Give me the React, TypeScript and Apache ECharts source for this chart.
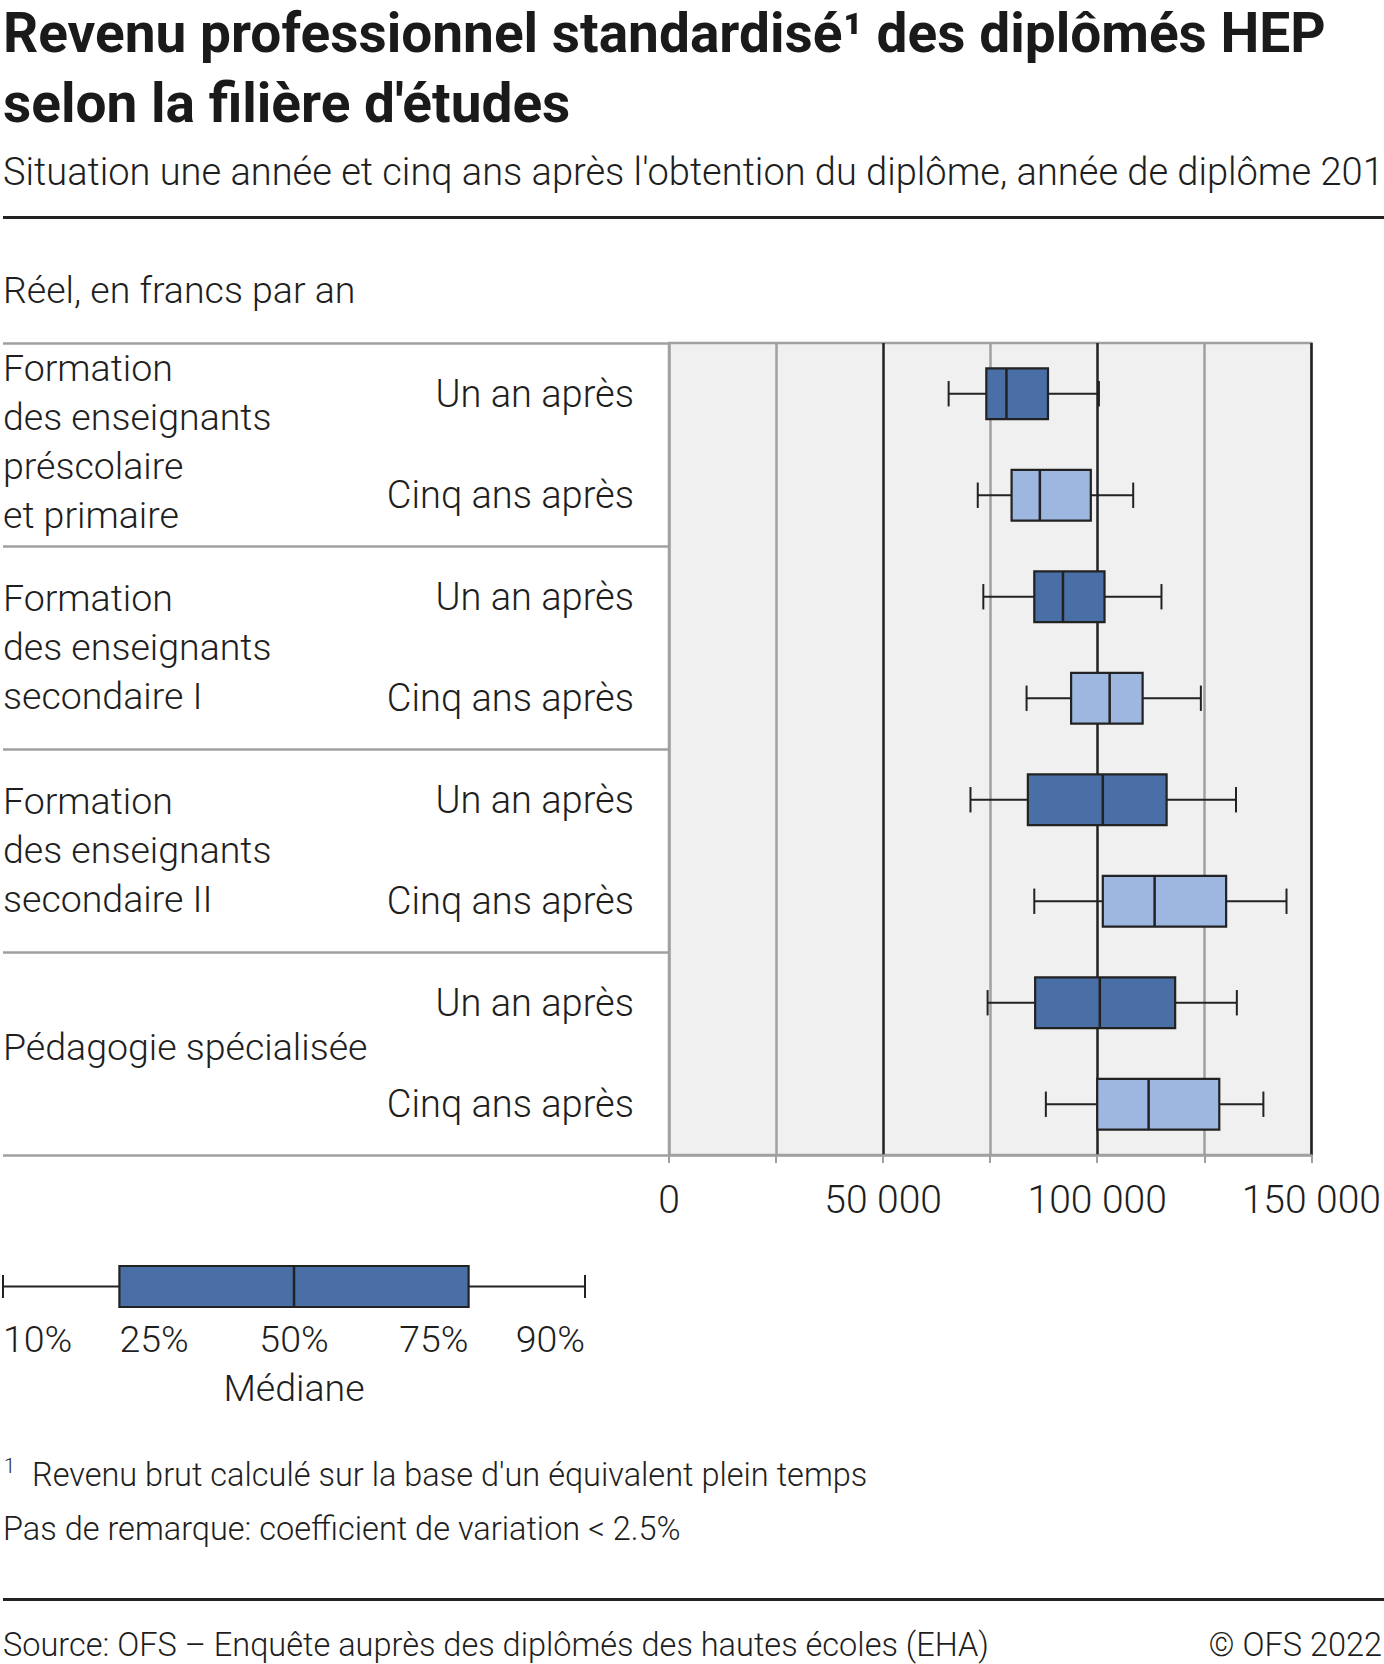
import React, { useEffect, useRef } from 'react';
import * as echarts from 'echarts';

const TITLE_LINES = ['Revenu professionnel standardisé¹ des diplômés HEP', "selon la filière d'études"];
const SUBTITLE = "Situation une année et cinq ans après l'obtention du diplôme, année de diplôme 2016";
const UNIT = 'Réel, en francs par an';
const GROUPS = [
  'Formation\ndes enseignants\npréscolaire\net primaire',
  'Formation\ndes enseignants\nsecondaire I',
  'Formation\ndes enseignants\nsecondaire II',
  'Pédagogie spécialisée',
];
const PERIODS = ['Un an après', 'Cinq ans après'];
// [P10, P25, P50 (médiane), P75, P90] par filière
const UN_AN = [
  [65300, 74100, 78800, 88500, 100400],
  [73400, 85300, 92000, 101700, 115000],
  [70400, 83800, 101300, 116200, 132400],
  [74400, 85500, 100600, 118200, 132600],
];
const CINQ_ANS = [
  [72100, 80000, 86600, 98500, 108400],
  [83500, 93900, 102900, 110600, 124200],
  [85300, 101300, 113400, 130100, 144200],
  [88000, 100000, 112000, 128500, 138800],
];
const X_MIN = 0;
const X_MAX = 150000;
const X_STEP = 25000;
const X_LABELLED = [0, 50000, 100000, 150000];
const LEGEND_LABELS = ['10%', '25%', '50%', '75%', '90%'];
const LEGEND_SCHEMA = [0, 20, 50, 80, 100];
const MEDIAN_LABEL = 'Médiane';
const FOOTNOTE_MARK = '1';
const FOOTNOTE = "Revenu brut calculé sur la base d'un équivalent plein temps";
const REMARK = 'Pas de remarque: coefficient de variation < 2.5%';
const SOURCE = 'Source: OFS – Enquête auprès des diplômés des hautes écoles (EHA)';
const COPYRIGHT = '© OFS 2022';

const W = 1384;
const H = 1664;
const FONT = 'Roboto';
const INK = '#1e1e1e';
const DARK = '#4a6ea6';
const LIGHT = '#9eb7e0';
const GREY = '#a0a0a0';
const BLACK = '#222222';
const BODY = 38;
const LABEL = 37.5;
const SMALL = 32.5;
// upward nudge (bottom padding, px) of each group label block
const GROUP_PAD = [6, 2, 2, 13];

const GRID = { left: 669, top: 343, width: 647, height: 812 };
const LEG = { left: 3, top: 1266, width: 582, height: 41 };

const ROW_IDS = GROUPS.flatMap((_, g) => PERIODS.map((_, p) => `r${g}_${p}`));
const ROW_LABELS = GROUPS.flatMap(() => PERIODS);

const fmt = (v: number) => String(v).replace(/\B(?=(\d{3})+(?!\d))/g, ' ');

const txt = (text: string, x: number, y: number, size: number, o: any = {}) => ({
  type: 'text',
  x,
  y,
  silent: true,
  style: {
    text,
    fontSize: size,
    fontFamily: FONT,
    fontWeight: o.weight ?? 300,
    fill: o.color ?? INK,
    align: o.align ?? 'left',
    textAlign: o.align ?? 'left',
    verticalAlign: 'middle',
    textVerticalAlign: 'middle',
  },
});

const makeRender = (fill: string, boxRatio: number, capRatio: number) => (params: any, api: any) => {
  const cat = api.value(0);
  const pts = [1, 2, 3, 4, 5].map((d) => api.coord([api.value(d), cat]));
  const band = api.size([0, 1])[1];
  const h = band * boxRatio;
  const cap = h * capRatio;
  const cy = pts[2][1];
  const ln = (x1: number, y1: number, x2: number, y2: number, w = 2) => ({
    type: 'line',
    shape: { x1, y1, x2, y2 },
    style: { stroke: BLACK, lineWidth: w },
  });
  return {
    type: 'group',
    children: [
      ln(pts[0][0], cy, pts[1][0], cy),
      ln(pts[3][0], cy, pts[4][0], cy),
      ln(pts[0][0], cy - cap / 2, pts[0][0], cy + cap / 2),
      ln(pts[4][0], cy - cap / 2, pts[4][0], cy + cap / 2),
      {
        type: 'rect',
        shape: { x: pts[1][0], y: cy - h / 2, width: pts[3][0] - pts[1][0], height: h },
        style: { fill, stroke: BLACK, lineWidth: 2.2 },
      },
      ln(pts[2][0], cy - h / 2, pts[2][0], cy + h / 2, 2.5),
    ],
  };
};

export default function App() {
  const ref = useRef<HTMLDivElement>(null);
  useEffect(() => {
    document.body.style.margin = '0';
    const chart = echarts.init(ref.current!, null, { renderer: 'svg', width: W, height: H });
    const legX = (v: number) => LEG.left + (v / 100) * LEG.width;
    const legendAligns = ['left', 'left', 'center', 'right', 'right'];
    const baseRich = { fontSize: LABEL, lineHeight: 49, fontWeight: 300, fontFamily: FONT, color: INK };
    const rich: any = {};
    GROUP_PAD.forEach((p, i) => {
      rich['g' + i] = { ...baseRich, padding: [0, 0, p, 0] };
    });
    const option: any = {
      animation: false,
      backgroundColor: '#ffffff',
      textStyle: { fontFamily: FONT },
      grid: [
        { ...GRID, show: true, backgroundColor: '#f0f0f0', borderColor: GREY, borderWidth: 2.5, containLabel: false },
        { ...LEG, show: false, containLabel: false },
      ],
      xAxis: [
        {
          type: 'value',
          gridIndex: 0,
          min: X_MIN,
          max: X_MAX,
          interval: X_STEP,
          axisLine: { show: true, lineStyle: { color: GREY, width: 2.5 } },
          axisTick: { show: true, length: 8, lineStyle: { color: GREY, width: 2 } },
          axisLabel: {
            margin: 25,
            fontSize: 39,
            fontWeight: 300,
            fontFamily: FONT,
            color: INK,
            formatter: (v: number) => (X_LABELLED.includes(v) ? fmt(v) : ''),
          },
          splitLine: {
            show: true,
            lineStyle: { color: [GREY, GREY, BLACK, GREY, BLACK, GREY, BLACK], width: 2.5 },
          },
        },
        { type: 'value', gridIndex: 1, min: 0, max: 100, show: false },
      ],
      yAxis: [
        {
          type: 'category',
          gridIndex: 0,
          data: ROW_IDS,
          inverse: true,
          axisLine: { show: false },
          axisTick: { show: false },
          splitLine: { show: false },
          axisLabel: {
            margin: 35,
            fontSize: BODY,
            fontWeight: 300,
            fontFamily: FONT,
            color: INK,
            formatter: (_v: string, i: number) => ROW_LABELS[i],
          },
        },
        {
          type: 'category',
          gridIndex: 0,
          position: 'left',
          data: GROUPS,
          inverse: true,
          axisLine: { show: false },
          axisTick: { show: true, length: 666, lineStyle: { color: GREY, width: 2.5 } },
          splitLine: { show: false },
          axisLabel: {
            margin: 666,
            align: 'left',
            fontSize: LABEL,
            lineHeight: 49,
            fontWeight: 300,
            fontFamily: FONT,
            color: INK,
            rich,
            formatter: (v: string, i: number) =>
              v
                .split('\n')
                .map((line) => `{g${i}|${line}}`)
                .join('\n'),
          },
        },
        { type: 'category', gridIndex: 1, data: ['schema'], show: false },
      ],
      series: [
        {
          type: 'custom',
          name: PERIODS[0],
          xAxisIndex: 0,
          yAxisIndex: 0,
          clip: false,
          encode: { x: [1, 2, 3, 4, 5], y: 0 },
          data: UN_AN.map((v, g) => [2 * g, ...v]),
          renderItem: makeRender(DARK, 0.5, 0.5),
        },
        {
          type: 'custom',
          name: PERIODS[1],
          xAxisIndex: 0,
          yAxisIndex: 0,
          clip: false,
          encode: { x: [1, 2, 3, 4, 5], y: 0 },
          data: CINQ_ANS.map((v, g) => [2 * g + 1, ...v]),
          renderItem: makeRender(LIGHT, 0.5, 0.5),
        },
        {
          type: 'custom',
          name: 'schema',
          xAxisIndex: 1,
          yAxisIndex: 2,
          clip: false,
          encode: { x: [1, 2, 3, 4, 5], y: 0 },
          data: [[0, ...LEGEND_SCHEMA]],
          renderItem: makeRender(DARK, 1, 0.56),
        },
      ],
      graphic: [
        txt(TITLE_LINES[0], 3, 33, 55, { weight: 700, color: '#1a1a1a' }),
        txt(TITLE_LINES[1], 3, 103, 55, { weight: 700, color: '#1a1a1a' }),
        txt(SUBTITLE, 3, 172, BODY),
        { type: 'line', silent: true, shape: { x1: 3, y1: 217.5, x2: W, y2: 217.5 }, style: { stroke: BLACK, lineWidth: 3 } },
        txt(UNIT, 3, 290, LABEL),
        ...LEGEND_LABELS.map((l, i) => txt(l, legX(LEGEND_SCHEMA[i]), 1339, LABEL, { align: legendAligns[i] })),
        txt(MEDIAN_LABEL, legX(LEGEND_SCHEMA[2]), 1388, LABEL, { align: 'center' }),
        txt(FOOTNOTE_MARK, 4, 1466, 20),
        txt(FOOTNOTE, 32, 1475, SMALL),
        txt(REMARK, 3, 1529, SMALL),
        { type: 'line', silent: true, shape: { x1: 3, y1: 1599.5, x2: W, y2: 1599.5 }, style: { stroke: BLACK, lineWidth: 3 } },
        txt(SOURCE, 3, 1645, SMALL),
        txt(COPYRIGHT, 1382, 1645, SMALL, { align: 'right' }),
      ],
    };
    chart.setOption(option);
    return () => chart.dispose();
  }, []);
  return (
    <div
      ref={ref}
      style={{ position: 'absolute', left: 0, top: 0, width: W, height: H, overflow: 'hidden', background: '#fff' }}
    />
  );
}
